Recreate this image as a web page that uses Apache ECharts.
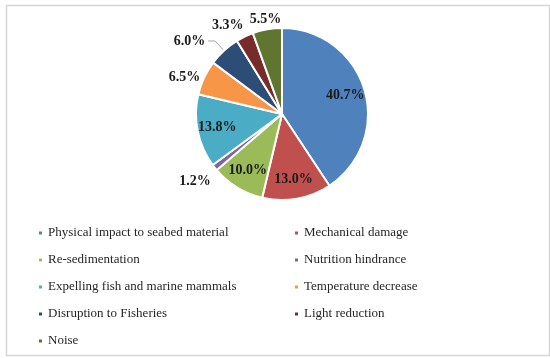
<!DOCTYPE html>
<html>
<head>
<meta charset="utf-8">
<script src="https://cdn.jsdelivr.net/npm/echarts@6/dist/echarts.min.js"></script>
<style>
html,body{margin:0;padding:0;background:#fff;}
#chart{width:550px;height:358px;}
</style>
</head>
<body>
<div id="chart"></div>
<script>
var categories = [
  'Physical impact to seabed material',
  'Mechanical damage',
  'Re-sedimentation',
  'Nutrition hindrance',
  'Expelling fish and marine mammals',
  'Temperature decrease',
  'Disruption to Fisheries',
  'Light reduction',
  'Noise'
];
var values = [40.7, 13.0, 10.0, 1.2, 13.8, 6.5, 6.0, 3.3, 5.5];
var colors = ['#4f81bd', '#c0504d', '#9bbb59', '#8064a2', '#4bacc6', '#f79646', '#2c4d75', '#772c2a', '#5f7530'];
var insideLabelled = [true, true, true, false, true, false, false, false, false];

// per-slice outside label styling (style only, not data)
var outsideStyle = {
  3: {len: 23, len2: 0, dist: -14, line: false},
  5: {len: 1, len2: 0, dist: 3, line: false},
  6: {len: 13, len2: 7, dist: 3, line: true},
  7: {len: 12, len2: 0, dist: -4, line: false},
  8: {len: 10, len2: 0, dist: 0, line: false}
};

var labelFont = {fontFamily: 'Liberation Serif', fontWeight: 'bold', fontSize: 14, color: '#1a1a1a'};

var mainData = categories.map(function (c, i) {
  var s = outsideStyle[i];
  var item = {name: c, value: values[i], itemStyle: {color: colors[i]}};
  if (s) {
    item.label = {show: true, position: 'outside', distanceToLabelLine: s.dist};
    item.labelLine = {show: s.line, length: s.len, length2: s.len2};
  } else {
    item.label = {show: false};
    item.labelLine = {show: false};
  }
  return item;
});

var overlayData = categories.map(function (c, i) {
  return {name: c, value: values[i], label: {show: insideLabelled[i]}};
});

var fmt = function (p) { return p.value.toFixed(1) + '%'; };

var chart = echarts.init(document.getElementById('chart'), null, {renderer: 'canvas'});
var legendText = {fontFamily: 'Liberation Serif', fontSize: 13, color: '#262626', lineHeight: 14};
chart.setOption({
  animation: false,
  color: colors,
  graphic: [{
    type: 'rect', left: 4, top: 3, shape: {width: 543, height: 350},
    style: {fill: 'none', stroke: '#d6d6d6', lineWidth: 1.5}, silent: true, z: -10
  }],
  legend: [{
    orient: 'vertical', left: 37, top: 226, padding: 0, icon: 'rect', itemWidth: 5, itemHeight: 5, itemGap: 13,
    textStyle: legendText, selectedMode: false,
    data: [categories[0], categories[2], categories[4], categories[6], categories[8]]
  }, {
    orient: 'vertical', left: 293, top: 226, padding: 0, icon: 'rect', itemWidth: 5, itemHeight: 5, itemGap: 13,
    textStyle: legendText, selectedMode: false,
    data: [categories[1], categories[3], categories[5], categories[7]]
  }],
  series: [{
    type: 'pie',
    center: [282, 114],
    radius: [0, 86],
    startAngle: 90,
    clockwise: true,
    avoidLabelOverlap: false,
    itemStyle: {borderColor: '#ffffff', borderWidth: 2},
    label: Object.assign({formatter: fmt}, labelFont),
    labelLine: {lineStyle: {color: '#a6a6a6', width: 1}},
    labelLayout: function (p) {
      if (p.dataIndex === 8) { return {align: 'center'}; }
    },
    emphasis: {disabled: true},
    data: mainData
  }, {
    type: 'pie',
    center: [282, 114],
    radius: [0, 126],
    startAngle: 90,
    clockwise: true,
    silent: true,
    z: 5,
    itemStyle: {color: 'rgba(0,0,0,0)', borderWidth: 0},
    label: Object.assign({position: 'inside', formatter: fmt}, labelFont),
    labelLine: {show: false},
    emphasis: {disabled: true},
    data: overlayData
  }]
});
</script>
</body>
</html>
